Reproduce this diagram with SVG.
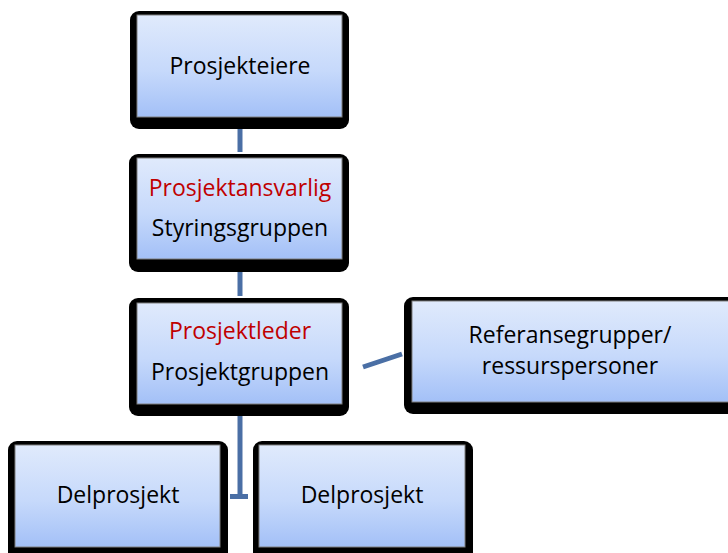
<svg xmlns="http://www.w3.org/2000/svg" width="728" height="553" viewBox="0 0 728 553">
<defs>
<linearGradient id="g" x1="0" y1="0" x2="0" y2="1">
<stop offset="0" stop-color="#e0eafc"/>
<stop offset="0.55" stop-color="#c6d9fb"/>
<stop offset="1" stop-color="#a3c0f7"/>
</linearGradient>
</defs>
<style>
.sh{fill:#000}
.bx{fill:url(#g);stroke:#7f7f7f;stroke-width:1}
.t{font-family:"Open Sans","Liberation Sans",Arial,sans-serif;font-size:23px;fill:#000;text-anchor:middle}
.r{fill:#c00000}
.c{stroke:#4a6fa5;stroke-width:5;fill:none}
</style>
<g id="connectors">
<line class="c" x1="240" y1="128" x2="240" y2="152"/>
<line class="c" x1="240" y1="272" x2="240" y2="296"/>
<line class="c" x1="363" y1="367" x2="402" y2="354"/>
<line class="c" x1="240" y1="416" x2="240" y2="499"/>
<line class="c" x1="230" y1="496.5" x2="248" y2="496.5"/>
</g>
<g id="prosjekteiere">
<rect class="sh" x="130" y="11" width="219" height="118" rx="9"/>
<rect class="bx" x="137" y="15" width="205" height="102"/>
<text class="t" x="240" y="74">Prosjekteiere</text>
</g>
<g id="styringsgruppen">
<rect class="sh" x="129" y="154" width="220" height="118" rx="9"/>
<rect class="bx" x="137" y="158" width="205" height="101"/>
<text class="t r" x="240" y="196">Prosjektansvarlig</text>
<text class="t" x="240" y="236">Styringsgruppen</text>
</g>
<g id="prosjektgruppen">
<rect class="sh" x="129" y="298" width="220" height="118" rx="9"/>
<rect class="bx" x="137" y="303" width="205" height="101"/>
<text class="t r" x="240" y="339">Prosjektleder</text>
<text class="t" x="240" y="380">Prosjektgruppen</text>
</g>
<g id="referansegrupper">
<rect class="sh" x="404" y="297" width="340" height="117" rx="9"/>
<rect class="bx" x="412" y="301" width="330" height="101"/>
<text class="t" x="570" y="343">Referansegrupper/</text>
<text class="t" x="570" y="374">ressurspersoner</text>
</g>
<g id="delprosjekt1">
<rect class="sh" x="8" y="441" width="220" height="125" rx="9"/>
<rect class="bx" x="15" y="445" width="205" height="102"/>
<text class="t" x="118" y="503">Delprosjekt</text>
</g>
<g id="delprosjekt2">
<rect class="sh" x="253" y="441" width="220" height="125" rx="9"/>
<rect class="bx" x="259" y="445" width="206" height="102"/>
<text class="t" x="362" y="503">Delprosjekt</text>
</g>
</svg>
